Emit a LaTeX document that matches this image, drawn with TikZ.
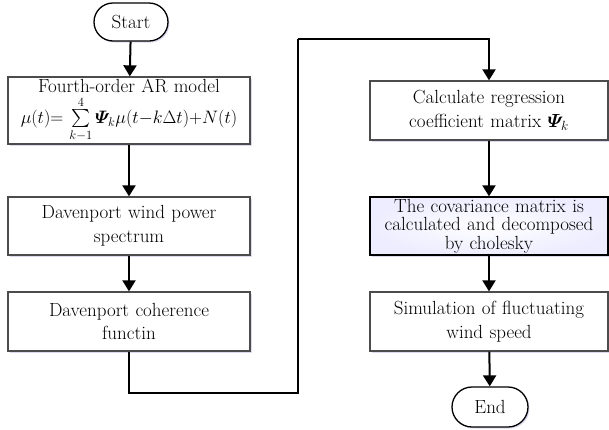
\documentclass[tikz,border=0pt]{standalone}
\usepackage{fix-cm}
\usepackage{amsmath,amssymb}
\usepackage{fontspec}
\usetikzlibrary{arrows.meta,shapes.misc,shadows}
\begin{document}
\begin{tikzpicture}[x=1pt,y=-1pt,
  procbox/.style={draw=black!70,line width=1.3pt,fill=white,minimum width=242pt,
    text width=238pt,align=center,inner sep=1pt,
    font=\fontsize{19}{23.5}\selectfont,
    drop shadow={opacity=0.2,shadow xshift=1.5pt,shadow yshift=-1.5pt,fill=blue!40!gray}},
  termbox/.style={draw=black,line width=1.3pt,fill=white,rounded rectangle,
    inner sep=2pt,font=\fontsize{19}{23.5}\selectfont,
    drop shadow={opacity=0.2,shadow xshift=1.5pt,shadow yshift=-1.5pt,fill=blue!40!gray}},
  flow/.style={line width=2pt,-{Triangle[width=13pt,length=11pt]}},
  link/.style={line width=1.6pt}]
\useasboundingbox (0,0) rectangle (609,429);
\node[termbox,minimum width=78pt,minimum height=38pt] (start) at (131,22) {Start};
\node[procbox,minimum height=67pt] (ar) at (129,110.5)
  {Fourth-order AR model\\[3pt]
   \fontsize{18}{22}\selectfont
   $\mu(t){=}\,\sum\limits_{k-1}^{4}\boldsymbol{\varPsi}_{\!k}\mu(t{-}k\Delta t){+}N(t)$};
\node[procbox,minimum height=58pt] (spec) at (129,226) {Davenport wind power\\spectrum};
\node[procbox,minimum height=59pt] (coh) at (129,321.5) {Davenport coherence\\functin};
\node[procbox,minimum width=238pt,text width=236pt,minimum height=59pt] (reg) at (489,110.5)
  {Calculate regression\\coefficient matrix $\boldsymbol{\varPsi}_{\!k}$};
\node[procbox,draw=black,minimum width=238pt,text width=236pt,minimum height=58pt,
  inner color=white,outer color=blue!7,font=\fontsize{19}{18.5}\selectfont] (cov) at (489,226)
  {The covariance matrix is\\calculated and decomposed\\by cholesky};
\node[procbox,minimum width=238pt,text width=236pt,minimum height=59pt] (sim) at (489,321.5)
  {Simulation of fluctuating\\wind speed};
\node[termbox,minimum width=80pt,minimum height=40pt] (end) at (490,407) {End};
\coordinate (c1) at (298,393);
\coordinate (c2) at (298,39);
\draw[flow] (start) -- (ar);
\draw[flow] (ar) -- (spec);
\draw[flow] (spec) -- (coh);
\draw[link] (coh.south) |- (c1) -- (c2);
\draw[flow] (c2) -| (reg.north);
\draw[flow] (reg) -- (cov);
\draw[flow] (cov) -- (sim);
\draw[flow] (sim) -- (end);
\end{tikzpicture}
\end{document}
